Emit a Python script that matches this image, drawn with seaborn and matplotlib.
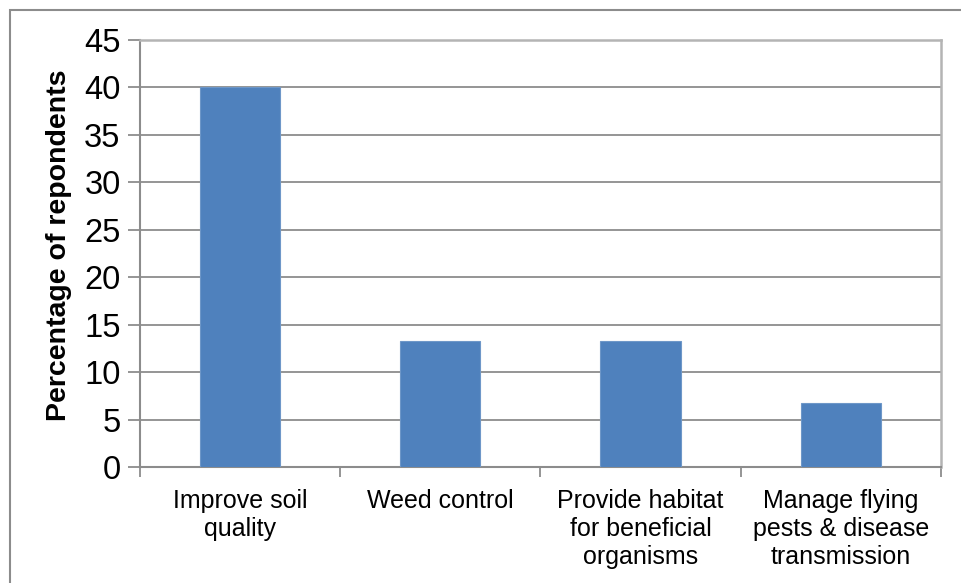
import matplotlib
matplotlib.use("Agg")
import matplotlib.pyplot as plt
from matplotlib.patches import Rectangle
import seaborn as sns
import pandas as pd

categories = [
    "Improve soil\nquality",
    "Weed control",
    "Provide habitat\nfor beneficial\norganisms",
    "Manage flying\npests & disease\ntransmission",
]
percentages = [40.0, 13.3, 13.3, 6.7]
y_ticks = [0, 5, 10, 15, 20, 25, 30, 35, 40, 45]

df = pd.DataFrame({"reason": categories, "pct": percentages})

sns.set_theme(style="white")
plt.rcParams["font.family"] = ["Liberation Sans", "DejaVu Sans"]
plt.rcParams["text.color"] = "black"

fig = plt.figure(figsize=(9.62, 5.83), dpi=100)
ax = fig.add_axes([0.1455, 0.199, 0.8325, 0.7324])

sns.barplot(data=df, x="reason", y="pct", color="#4f81bd", width=0.4,
            saturation=1, edgecolor="#6e97c8", linewidth=0.8, ax=ax, zorder=3)

ax.set_ylim(0, 45)
ax.set_xlim(-0.5, len(categories) - 0.5)
ax.set_yticks(y_ticks)
ax.set_yticklabels([str(t) for t in y_ticks], fontsize=23.5, color="black")
ax.yaxis.grid(True, color="#8c8c8c", linewidth=1.3, zorder=0)
ax.set_axisbelow(True)

ax.set_xticks(range(len(categories)))
ax.set_xticklabels(categories, fontsize=18, linespacing=1.2, color="black")
ax.tick_params(axis="x", which="major", length=0, pad=16)
ax.set_xticks([i - 0.5 for i in range(len(categories) + 1)], minor=True)
ax.tick_params(axis="x", which="minor", length=7, width=1.3, color="#8c8c8c",
               bottom=True)
ax.tick_params(axis="y", which="major", length=9, width=1.3, color="#8c8c8c",
               left=True, pad=5)

ax.set_xlabel("")
ax.set_ylabel("Percentage of repondents", fontsize=20.5, fontweight="bold",
              color="black")
ax.yaxis.set_label_coords(-0.085, 0.52)

for side in ["left", "bottom"]:
    ax.spines[side].set_color("#8c8c8c")
    ax.spines[side].set_linewidth(1.5)
for side in ["top", "right"]:
    ax.spines[side].set_visible(True)
    ax.spines[side].set_color("#b4b4b4")
    ax.spines[side].set_linewidth(1.8)

# Outer chart frame
W, H = 962, 583
fig.patches.append(Rectangle((10 / W, -0.05), 1.05, 1 - 10 / H + 0.05,
                             transform=fig.transFigure, fill=False,
                             edgecolor="#8c8c8c", linewidth=1.5))

fig.savefig("out.png", dpi=100)
